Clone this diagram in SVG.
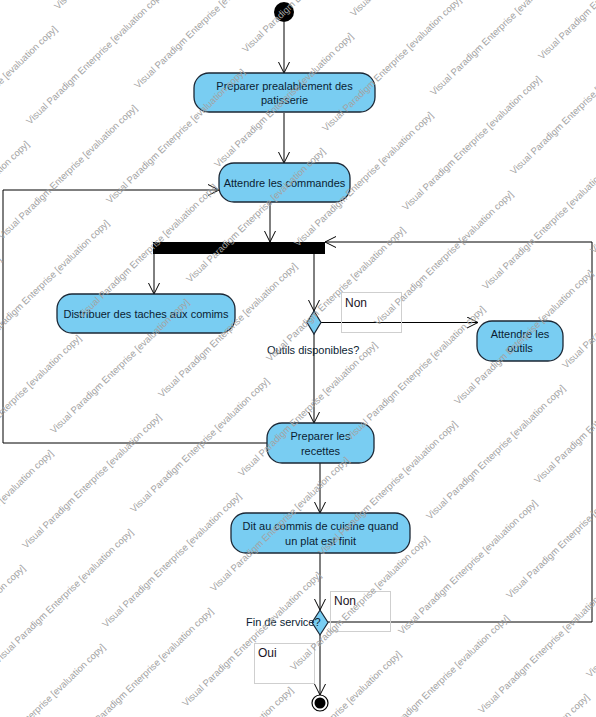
<svg xmlns="http://www.w3.org/2000/svg" xmlns:xlink="http://www.w3.org/1999/xlink" width="596" height="717" viewBox="0 0 596 717">
  <style>
    .action { fill: #79cdf2; stroke: #1b2735; stroke-width: 1.3; }
    .decision { fill: #79cdf2; stroke: #1b2735; stroke-width: 1.2; }
    .label { font-family: "Liberation Sans", Arial, sans-serif; font-size: 11px; fill: #0b1d33; }
    .guard { font-family: "Liberation Sans", Arial, sans-serif; font-size: 12px; fill: #1a1424; }
    .guardbox { fill: none; stroke: #cfcfcf; stroke-width: 1; }
    .edge { fill: none; stroke: #000; stroke-width: 1; marker-end: url(#open); }
    .wm { font-family: "Liberation Sans", Arial, sans-serif; font-size: 9.5px; fill: #a3a3a3; }
  </style>
  <defs>
    <marker id="open" viewBox="0 0 12 12" refX="11.5" refY="6" markerWidth="12" markerHeight="12" markerUnits="userSpaceOnUse" orient="auto">
      <path d="M0.5,0.5 L11.5,6 L0.5,11.5" fill="none" stroke="#000" stroke-width="1"/>
    </marker>
    <text id="wmtext" class="wm" transform="rotate(-44)">Visual Paradigm Enterprise [evaluation copy]</text>
    <g id="wmrow">
      <use xlink:href="#wmtext" transform="translate(-648,216)"/>
      <use xlink:href="#wmtext" transform="translate(-540,180)"/>
      <use xlink:href="#wmtext" transform="translate(-432,144)"/>
      <use xlink:href="#wmtext" transform="translate(-324,108)"/>
      <use xlink:href="#wmtext" transform="translate(-216,72)"/>
      <use xlink:href="#wmtext" transform="translate(-108,36)"/>
      <use xlink:href="#wmtext" transform="translate(0,0)"/>
      <use xlink:href="#wmtext" transform="translate(108,-36)"/>
      <use xlink:href="#wmtext" transform="translate(216,-72)"/>
      <use xlink:href="#wmtext" transform="translate(324,-108)"/>
      <use xlink:href="#wmtext" transform="translate(432,-144)"/>
    </g>
  </defs>

  <rect x="0" y="0" width="596" height="717" fill="#fff"/>

  <!-- connectors -->
  <g id="connectors">
    <path class="edge" d="M284,22 L284,73"/>
    <path class="edge" d="M284,113 L284,163"/>
    <path class="edge" d="M270,202 L270,242"/>
    <path class="edge" d="M154,254 L154,294"/>
    <path class="edge" d="M314,254 L314,311"/>
    <path class="edge" d="M321,322.5 L478,322.5"/>
    <path class="edge" d="M314,334 L314,423"/>
    <path class="edge" d="M267,443 L3,443 L3,190 L219,190"/>
    <path class="edge" d="M320,463 L320,513"/>
    <path class="edge" d="M320,553 L320,610"/>
    <path class="edge" d="M328,622 L592,622 L592,242 L325,242"/>
    <path class="edge" d="M320,635 L320,695"/>
  </g>

  <!-- initial node -->
  <g id="start">
    <circle cx="284" cy="12" r="10" fill="#000"/>
  </g>

  <g id="preparer-patisserie">
    <rect class="action" x="194" y="73" width="181" height="39" rx="15"/>
    <text class="label" x="284.5" y="89.5" text-anchor="middle">Preparer prealablement des</text>
    <text class="label" x="284.5" y="104" text-anchor="middle">patisserie</text>
  </g>

  <g id="attendre-commandes">
    <rect class="action" x="219" y="163" width="131" height="39" rx="15"/>
    <text class="label" x="284.5" y="186.5" text-anchor="middle">Attendre les commandes</text>
  </g>

  <g id="fork">
    <rect x="153" y="242" width="172" height="12" fill="#000"/>
  </g>

  <g id="distribuer">
    <rect class="action" x="57" y="294" width="178" height="39" rx="15"/>
    <text class="label" x="146" y="317.5" text-anchor="middle">Distribuer des taches aux comims</text>
  </g>

  <g id="outils-disponibles">
    <polygon class="decision" points="314,311 321,322.5 314,334 307,322.5"/>
    <text class="label" x="267" y="354">Outils disponibles?</text>
  </g>

  <g id="guard-non-outils">
    <rect class="guardbox" x="341.5" y="292.5" width="60" height="40"/>
    <text class="guard" x="345" y="307">Non</text>
  </g>

  <g id="attendre-outils">
    <rect class="action" x="477" y="321" width="86" height="40" rx="15"/>
    <text class="label" x="520" y="338" text-anchor="middle">Attendre les</text>
    <text class="label" x="520" y="352" text-anchor="middle">outils</text>
  </g>

  <g id="preparer-recettes">
    <rect class="action" x="267" y="423" width="107" height="40" rx="15"/>
    <text class="label" x="320.5" y="440" text-anchor="middle">Preparer les</text>
    <text class="label" x="320.5" y="454.5" text-anchor="middle">recettes</text>
  </g>

  <g id="dit-commis">
    <rect class="action" x="231" y="513" width="179" height="40" rx="15"/>
    <text class="label" x="320.5" y="530" text-anchor="middle">Dit au commis de cuisine quand</text>
    <text class="label" x="320.5" y="544.5" text-anchor="middle">un plat est finit</text>
  </g>

  <g id="fin-de-service">
    <polygon class="decision" points="320,610 328,622.5 320,635 312,622.5"/>
    <text class="label" x="246" y="626">Fin de service?</text>
  </g>

  <g id="guard-non-service">
    <rect class="guardbox" x="330.5" y="591.5" width="60" height="40"/>
    <text class="guard" x="334" y="605">Non</text>
  </g>

  <g id="guard-oui">
    <rect class="guardbox" x="254.5" y="643.5" width="60" height="40"/>
    <text class="guard" x="258" y="657">Oui</text>
  </g>

  <!-- final node -->
  <g id="end">
    <circle cx="320" cy="703" r="8" fill="#fff" stroke="#000" stroke-width="1.2"/>
    <circle cx="320" cy="703" r="5.5" fill="#000"/>
  </g>

  <!-- evaluation watermark, tiled -->
  <g id="watermark" pointer-events="none">
    <use xlink:href="#wmrow" transform="translate(-50,46)"/>
    <use xlink:href="#wmrow" transform="translate(30,125)"/>
    <use xlink:href="#wmrow" transform="translate(110,204)"/>
    <use xlink:href="#wmrow" transform="translate(190,283)"/>
    <use xlink:href="#wmrow" transform="translate(270,362)"/>
    <use xlink:href="#wmrow" transform="translate(350,441)"/>
    <use xlink:href="#wmrow" transform="translate(430,520)"/>
    <use xlink:href="#wmrow" transform="translate(510,599)"/>
    <use xlink:href="#wmrow" transform="translate(590,678)"/>
    <use xlink:href="#wmrow" transform="translate(670,757)"/>
  </g>
</svg>
